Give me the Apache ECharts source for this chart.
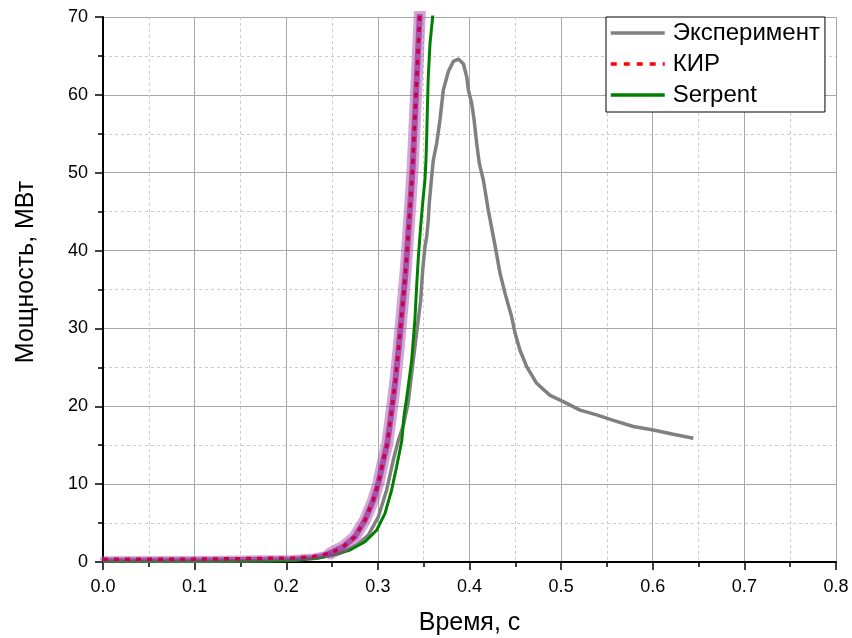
<!DOCTYPE html>
<html>
<head>
<meta charset="utf-8">
<script src="https://cdn.jsdelivr.net/npm/echarts@6/dist/echarts.min.js"></script>
<style>
html,body{margin:0;padding:0;background:#fff;}
#chart{width:852px;height:638px;}
</style>
</head>
<body>
<div id="chart"></div>
<script>
// ---- Data ----
var seriesNames = ['Эксперимент', 'КИР', 'Serpent'];
var xTicks = [0.0, 0.1, 0.2, 0.3, 0.4, 0.5, 0.6, 0.7, 0.8];
var yTicks = [0, 10, 20, 30, 40, 50, 60, 70];

var expTime  = [0.00, 0.10, 0.18, 0.21, 0.233, 0.2587, 0.2769, 0.2896, 0.3005, 0.3096, 0.3168, 0.3225, 0.3277, 0.3330, 0.3387, 0.3445, 0.3467, 0.3489, 0.3514, 0.3533, 0.3550, 0.3561, 0.3587, 0.3605, 0.3642, 0.3678, 0.3714, 0.3769, 0.3824, 0.3878, 0.3933, 0.3970, 0.3988, 0.4024, 0.4050, 0.4078, 0.4107, 0.4151, 0.4205, 0.4278, 0.4333, 0.4388, 0.4460, 0.4497, 0.4551, 0.4624, 0.4733, 0.4879, 0.5024, 0.5206, 0.5388, 0.5570, 0.5788, 0.6006, 0.6224, 0.6443];
var expPower = [0.10, 0.10, 0.15, 0.25, 0.47, 1.12, 2.18, 3.47, 5.8, 9.25, 13.1, 15.7, 17.5, 20.4, 26.0, 31.5, 33.6, 37.5, 40.5, 41.8, 43.9, 46.1, 49.5, 51.6, 53.8, 56.8, 60.6, 63.0, 64.3, 64.6, 64.0, 62.3, 60.6, 58.9, 56.8, 53.8, 51.2, 49.06, 45.2, 40.7, 37.1, 34.5, 31.5, 29.4, 27.2, 25.1, 22.95, 21.4, 20.6, 19.5, 18.9, 18.2, 17.4, 16.95, 16.4, 15.9];

var kirTime  = [0.00, 0.10, 0.2077, 0.2295, 0.2478, 0.2623, 0.2750, 0.2860, 0.2950, 0.3005, 0.3060, 0.3103, 0.3151, 0.3192, 0.3228, 0.3260, 0.3277, 0.3307, 0.3332, 0.3356, 0.3380, 0.3416, 0.3452, 0.3462];
var kirPower = [0.35, 0.37, 0.5, 0.7, 1.12, 1.97, 3.25, 5.4, 7.96, 10.1, 13.1, 15.2, 19.5, 23.4, 27.65, 31.7, 33.9, 37.9, 42.2, 46.3, 50.8, 60.0, 69.0, 71.5];

var serpTime  = [0.00, 0.20, 0.2332, 0.2514, 0.2696, 0.2860, 0.2987, 0.3078, 0.3150, 0.3202, 0.3260, 0.3285, 0.3322, 0.3369, 0.3405, 0.3423, 0.3442, 0.3467, 0.3489, 0.3514, 0.3525, 0.3533, 0.3540, 0.3550, 0.3569, 0.3598, 0.3605];
var serpPower = [0.10, 0.15, 0.47, 0.9, 1.54, 2.6, 4.1, 6.25, 9.25, 12.1, 15.5, 18.7, 21.7, 25.9, 31.3, 35.4, 39.2, 43.1, 46.1, 49.1, 51.6, 54.6, 58.05, 62.3, 66.6, 70.0, 71.5];

function pairs(xs, ys) { return xs.map(function (x, i) { return [x, ys[i]]; }); }

var kirAll = pairs(kirTime, kirPower);
var kirFlat = kirAll.slice(0, 5);   // thin part of the uncertainty band
var kirSteep = kirAll.slice(4);     // wide part of the uncertainty band

var FONT = 'Liberation Sans, Arial, sans-serif';
var chart = echarts.init(document.getElementById('chart'), null, {renderer: 'canvas'});

function bandSeries(name, data, color, width, z) {
  return {
    name: name, type: 'line', data: data,
    showSymbol: false, symbol: 'none', smooth: false, silent: true,
    lineStyle: {color: color, width: width, cap: 'round', join: 'round'}, z: z
  };
}

var option = {
  backgroundColor: '#ffffff',
  animation: false,
  grid: {left: 103, right: 16, top: 17, bottom: 76, containLabel: false, outerBoundsMode: 'none'},
  legend: {
    data: [
      {name: seriesNames[0]},
      {name: seriesNames[1], lineStyle: {color: '#ff0000', type: [6, 7]}},
      {name: seriesNames[2]}
    ],
    orient: 'vertical',
    left: 606,
    top: 17,
    itemWidth: 54,
    itemHeight: 14,
    itemGap: 7,
    padding: [4, 5, 5, 3],
    borderColor: '#000',
    borderWidth: 1,
    backgroundColor: '#fff',
    itemStyle: {opacity: 0},
    lineStyle: {width: 3.5},
    textStyle: {fontSize: 24, color: '#000', fontFamily: FONT, padding: [0, 0, 0, 3]}
  },
  xAxis: {
    type: 'value',
    min: xTicks[0],
    max: xTicks[xTicks.length - 1],
    interval: 0.1,
    name: 'Время, с',
    nameLocation: 'middle',
    nameGap: 49,
    nameTextStyle: {fontSize: 25, color: '#000', fontFamily: FONT},
    axisLine: {show: true, onZero: false, lineStyle: {color: '#000', width: 2}},
    axisTick: {show: true, inside: false, length: 8, lineStyle: {color: '#000', width: 1.5}},
    minorTick: {show: true, splitNumber: 2, length: 5, lineStyle: {color: '#000', width: 1.5}},
    axisLabel: {fontSize: 18, color: '#000', fontFamily: FONT, margin: 16,
      formatter: function (v) { return v.toFixed(1); }},
    splitLine: {show: true, lineStyle: {color: '#a8a8a8', width: 1}},
    minorSplitLine: {show: true, lineStyle: {color: '#cccccc', width: 1, type: [3, 3]}}
  },
  yAxis: {
    type: 'value',
    min: yTicks[0],
    max: yTicks[yTicks.length - 1],
    interval: 10,
    name: 'Мощность, МВт',
    nameLocation: 'middle',
    nameGap: 64,
    nameTextStyle: {fontSize: 25, color: '#000', fontFamily: FONT, padding: [0, 0, 0, 35]},
    axisLine: {show: true, onZero: false, lineStyle: {color: '#000', width: 2}},
    axisTick: {show: true, inside: false, length: 8, lineStyle: {color: '#000', width: 1.5}},
    minorTick: {show: true, splitNumber: 2, length: 5, lineStyle: {color: '#000', width: 1.5}},
    axisLabel: {fontSize: 18, color: '#000', fontFamily: FONT, margin: 15},
    splitLine: {show: true, lineStyle: {color: '#a8a8a8', width: 1}},
    minorSplitLine: {show: true, lineStyle: {color: '#cccccc', width: 1, type: [3, 3]}}
  },
  series: [
    {
      name: seriesNames[0], type: 'line', data: pairs(expTime, expPower),
      showSymbol: false, symbol: 'none', smooth: false,
      lineStyle: {color: '#808080', width: 3.5}, itemStyle: {color: '#808080'}, z: 2
    },
    {
      name: seriesNames[2], type: 'line', data: pairs(serpTime, serpPower),
      showSymbol: false, symbol: 'none', smooth: false,
      lineStyle: {color: '#008000', width: 3}, itemStyle: {color: '#008000'}, z: 3
    },
    bandSeries('band-flat-outer', kirFlat, 'rgba(170,80,170,0.5)', 6, 4),
    bandSeries('band-flat-inner', kirFlat, 'rgba(155,55,155,0.7)', 3, 5),
    bandSeries('band-steep-outer', kirSteep, 'rgba(170,80,170,0.5)', 12, 4),
    bandSeries('band-steep-inner', kirSteep, 'rgba(155,55,155,0.75)', 6, 5),
    {
      name: seriesNames[1], type: 'line', data: kirAll,
      showSymbol: false, symbol: 'none', smooth: false,
      lineStyle: {color: '#c8004e', width: 3.5, type: [5, 6]}, itemStyle: {color: '#c8004e'}, z: 7
    }
  ]
};
chart.setOption(option);
</script>
</body>
</html>
